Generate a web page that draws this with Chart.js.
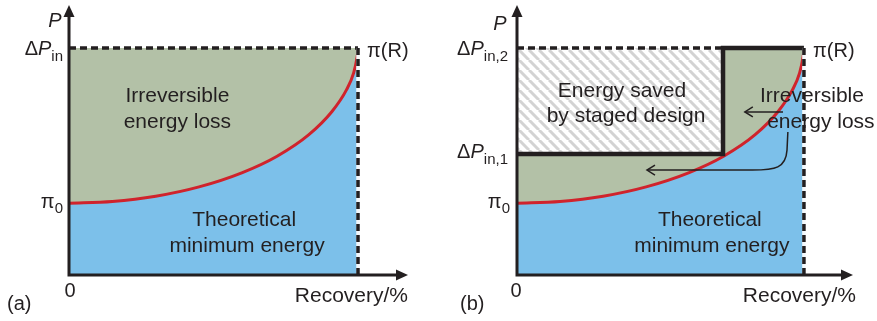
<!DOCTYPE html>
<html>
<head>
<meta charset="utf-8">
<script src="https://cdn.jsdelivr.net/npm/chart.js@4.4.1/dist/chart.umd.min.js"></script>
<style>
html, body { margin: 0; padding: 0; background: #fff; }
#wrap { position: relative; width: 877px; height: 321px; }
canvas { position: absolute; top: 0; }
</style>
</head>
<body>
<div id="wrap">
  <canvas id="panelA" width="438" height="321" style="left:0px"></canvas>
  <canvas id="panelB" width="438" height="321" style="left:439px"></canvas>
</div>
<script>
// osmotic pressure curve pi(R), recovery as fraction of the end point, pressure as fraction of dPin
var recovery = [0, 0.15, 0.3, 0.45, 0.6, 0.72, 0.83, 0.91, 0.96, 0.985, 0.997, 1.0];
var osmotic  = [0.316, 0.324, 0.347, 0.388, 0.451, 0.523, 0.618, 0.72, 0.815, 0.89, 0.96, 0.99];

var pIn = 1;         // dPin (one stage) = dPin,2
var pIn1 = 0.533;    // dPin,1 of the first stage
var stageR = 0.718;  // recovery where stage two takes over
var rMax = 1;        // end recovery

var BLACK = '#231f20';
var RED = '#d0232c';
var BLUE = '#7cc0ea';
var GREEN = '#b3c1a7';
var NONE = 'rgba(0,0,0,0)';
var FONT = '"Liberation Sans", Arial, sans-serif';

var curve = recovery.map(function (r, i) { return { x: r, y: osmotic[i] }; });

function dashed(points) {
  return { data: points, borderColor: BLACK, borderWidth: 3.5, borderDash: [7, 4], fill: false, tension: 0 };
}
function backing(points) {
  return { data: points, borderColor: '#f4f8fb', borderWidth: 3.5, fill: false, tension: 0 };
}
function area(points, color) {
  return { data: points, borderColor: NONE, borderWidth: 0, fill: 'origin', backgroundColor: color, tension: 0 };
}
function redCurve() {
  return { data: curve, borderColor: RED, borderWidth: 3, fill: 'origin', backgroundColor: BLUE,
           cubicInterpolationMode: 'monotone' };
}

function hatch() {
  var s = 10, c = document.createElement('canvas');
  c.width = s; c.height = s;
  var g = c.getContext('2d');
  g.fillStyle = '#fff';
  g.fillRect(0, 0, s, s);
  g.strokeStyle = '#d3d3d3';
  g.lineWidth = 3;
  for (var k = -1; k <= 1; k++) {
    g.beginPath();
    g.moveTo(k * s, 0);
    g.lineTo(k * s + s, s);
    g.stroke();
  }
  return g.createPattern(c, 'repeat');
}

// text pieces: [text, font, dy]
function runs(ctx, parts, x, y, align) {
  var w = 0;
  parts.forEach(function (p) { ctx.font = p[1]; w += ctx.measureText(p[0]).width; });
  var cx = align === 'right' ? x - w : (align === 'center' ? x - w / 2 : x);
  ctx.textAlign = 'left';
  parts.forEach(function (p) {
    ctx.font = p[1];
    ctx.fillText(p[0], cx, y + (p[2] || 0));
    cx += ctx.measureText(p[0]).width;
  });
}

function axesPlugin(labels, notes, extra) {
  return {
    id: 'sketch',
    afterDatasetsDraw: function (chart) {
      var ctx = chart.ctx, a = chart.chartArea;
      var xs = chart.scales.x, ys = chart.scales.y;
      var x0 = xs.getPixelForValue(0), y0 = ys.getPixelForValue(0);
      ctx.save();
      ctx.strokeStyle = BLACK;
      ctx.fillStyle = BLACK;
      ctx.lineWidth = 3;
      ctx.beginPath();
      ctx.moveTo(x0, y0 + 1.5);
      ctx.lineTo(x0, a.top + 8);
      ctx.moveTo(x0 - 1.5, y0);
      ctx.lineTo(a.right - 8, y0);
      ctx.stroke();
      ctx.beginPath();
      ctx.moveTo(x0, a.top);
      ctx.lineTo(x0 - 5.5, a.top + 12);
      ctx.lineTo(x0 + 5.5, a.top + 12);
      ctx.closePath();
      ctx.fill();
      ctx.beginPath();
      ctx.moveTo(a.right, y0);
      ctx.lineTo(a.right - 12, y0 - 5.5);
      ctx.lineTo(a.right - 12, y0 + 5.5);
      ctx.closePath();
      ctx.fill();

      if (extra) extra(ctx, xs, ys);

      ctx.textBaseline = 'alphabetic';
      labels.forEach(function (l) { runs(ctx, l.parts, l.x, l.y, l.align); });
      ctx.font = '21px ' + FONT;
      ctx.textAlign = 'center';
      notes.forEach(function (n) {
        ctx.fillText(n.text, xs.getPixelForValue(n.x), ys.getPixelForValue(n.y));
      });
      ctx.restore();
    }
  };
}

function options(pad, xMax) {
  return {
    responsive: false,
    animation: false,
    layout: { padding: pad },
    elements: { point: { radius: 0 } },
    plugins: { legend: { display: false }, tooltip: { enabled: false } },
    scales: {
      x: { type: 'linear', display: false, min: 0, max: xMax },
      y: { type: 'linear', display: false, min: 0, max: 1.189 }
    }
  };
}

var F20 = '20px ' + FONT, I20 = 'italic 20px ' + FONT, F15 = '15px ' + FONT, F21 = '21px ' + FONT;

// ---- panel (a): single stage
new Chart(document.getElementById('panelA'), {
  type: 'line',
  data: {
    datasets: [
      dashed([{ x: rMax, y: 0 }, { x: rMax, y: pIn }]),
      backing([{ x: rMax, y: 0 }, { x: rMax, y: pIn }]),
      dashed([{ x: 0, y: pIn }, { x: rMax, y: pIn }]),
      redCurve(),
      area([{ x: 0, y: pIn }, { x: rMax, y: pIn }], GREEN)
    ]
  },
  options: options({ left: 69, right: 30, top: 5, bottom: 46 }, 1.173),
  plugins: [axesPlugin([
    { parts: [['P', I20]], x: 55, y: 27, align: 'center' },
    { parts: [['\u0394', F20], ['P', I20], ['in', F15, 6]], x: 63, y: 55, align: 'right' },
    { parts: [['\u03c0', F20], ['0', F15, 5]], x: 63, y: 208, align: 'right' },
    { parts: [['\u03c0(R)', F20]], x: 367, y: 57, align: 'left' },
    { parts: [['0', F20]], x: 70, y: 297, align: 'center' },
    { parts: [['Recovery/%', F21]], x: 408, y: 302, align: 'right' },
    { parts: [['(a)', F20]], x: 7, y: 310, align: 'left' }
  ], [
    { text: 'Irreversible', x: 0.375, y: 0.762 },
    { text: 'energy loss', x: 0.375, y: 0.648 },
    { text: 'Theoretical', x: 0.606, y: 0.216 },
    { text: 'minimum energy', x: 0.616, y: 0.101 }
  ])]
});

// ---- panel (b): two stages
function arrows(ctx, xs, ys) {
  function px(x) { return xs.getPixelForValue(x); }
  function py(y) { return ys.getPixelForValue(y); }
  function head(x, y) {
    ctx.beginPath();
    ctx.moveTo(x + 8, y - 5);
    ctx.lineTo(x, y);
    ctx.lineTo(x + 8, y + 5);
    ctx.stroke();
  }
  ctx.lineWidth = 1.5;
  ctx.strokeStyle = BLACK;
  ctx.beginPath();
  ctx.moveTo(px(0.927), py(0.718));
  ctx.lineTo(px(0.794), py(0.718));
  ctx.stroke();
  head(px(0.794), py(0.718));
  ctx.beginPath();
  ctx.moveTo(px(0.944), py(0.63));
  ctx.lineTo(px(0.941), py(0.55));
  ctx.bezierCurveTo(px(0.937), py(0.47), px(0.9), py(0.463), px(0.82), py(0.462));
  ctx.lineTo(px(0.453), py(0.462));
  ctx.stroke();
  head(px(0.453), py(0.462));
}

new Chart(document.getElementById('panelB'), {
  type: 'line',
  data: {
    datasets: [
      dashed([{ x: rMax, y: 0 }, { x: rMax, y: pIn }]),
      backing([{ x: rMax, y: 0 }, { x: rMax, y: pIn }]),
      dashed([{ x: 0, y: pIn }, { x: stageR, y: pIn }]),
      { data: [{ x: 0, y: pIn1 }, { x: stageR, y: pIn1 }, { x: stageR, y: pIn }, { x: rMax, y: pIn }],
        borderColor: BLACK, borderWidth: 4.5, fill: false, tension: 0 },
      redCurve(),
      area([{ x: 0, y: pIn1 }, { x: stageR, y: pIn1 }, { x: stageR, y: pIn }, { x: rMax, y: pIn }], GREEN),
      area([{ x: 0, y: pIn }, { x: stageR, y: pIn }], hatch())
    ]
  },
  options: options({ left: 78, right: 24, top: 5, bottom: 46 }, 1.171),
  plugins: [axesPlugin([
    { parts: [['P', I20]], x: 61, y: 30, align: 'center' },
    { parts: [['\u0394', F20], ['P', I20], ['in,2', F15, 6]], x: 69, y: 55, align: 'right' },
    { parts: [['\u0394', F20], ['P', I20], ['in,1', F15, 6]], x: 69, y: 158, align: 'right' },
    { parts: [['\u03c0', F20], ['0', F15, 5]], x: 71, y: 208, align: 'right' },
    { parts: [['\u03c0(R)', F20]], x: 374, y: 57, align: 'left' },
    { parts: [['0', F20]], x: 77, y: 297, align: 'center' },
    { parts: [['Recovery/%', F21]], x: 417, y: 302, align: 'right' },
    { parts: [['(b)', F20]], x: 21, y: 310, align: 'left' }
  ], [
    { text: 'Energy saved', x: 0.366, y: 0.784 },
    { text: 'by staged design', x: 0.38, y: 0.674 },
    { text: 'Irreversible', x: 1.028, y: 0.762 },
    { text: 'energy loss', x: 1.059, y: 0.648 },
    { text: 'Theoretical', x: 0.672, y: 0.216 },
    { text: 'minimum energy', x: 0.679, y: 0.101 }
  ], arrows)]
});
</script>
</body>
</html>
